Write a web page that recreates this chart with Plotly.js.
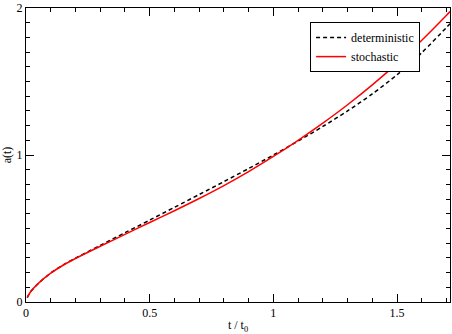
<!DOCTYPE html>
<html>
<head>
<meta charset="utf-8">
<script src="https://cdn.plot.ly/plotly-3.0.1.min.js"></script>
<style>
  html, body { margin: 0; padding: 0; background: #fff; }
  #chart { width: 452px; height: 334px; }
</style>
</head>
<body>
<div id="chart"></div>
<script>
CHART = document.getElementById('chart');

var SERIF = 'Liberation Serif';

// t / t0 sample points
var tVals = [0.005, 0.01, 0.02, 0.05, 0.1, 0.15, 0.2, 0.3, 0.4, 0.5, 0.6, 0.7,
             0.8, 0.9, 1.0, 1.1, 1.2, 1.3, 1.4, 1.5, 1.6, 1.7, 1.714];

// a(t), deterministic (black dashed)
var aDet = [0.03, 0.046, 0.073, 0.127, 0.197, 0.252, 0.298, 0.385, 0.471, 0.557, 0.644, 0.731,
            0.819, 0.908, 1.0, 1.095, 1.194, 1.30, 1.416, 1.546, 1.696, 1.868, 1.893];

// a(t), stochastic (red solid)
var aSto = [0.03, 0.046, 0.073, 0.127, 0.196, 0.25, 0.296, 0.379, 0.46, 0.541, 0.621, 0.704,
            0.792, 0.887, 0.99, 1.10, 1.217, 1.342, 1.477, 1.623, 1.781, 1.951, 1.976];

var xTicks = [0, 0.5, 1, 1.5];
var xTickText = ['0', '0.5', '1', '1.5'];
var yTicks = [0, 1, 2];
var yTickText = ['0', '1', '2'];

var data = [{
    x: tVals,
    y: aDet,
    type: 'scatter',
    mode: 'lines',
    name: 'deterministic',
    line: {color: 'black', width: 1.5, dash: '4px,3px', shape: 'spline', smoothing: 0.8}
}, {
    x: tVals,
    y: aSto,
    type: 'scatter',
    mode: 'lines',
    name: 'stochastic',
    line: {color: 'rgb(255,0,0)', width: 1.5, shape: 'spline', smoothing: 0.8}
}];

var axisCommon = {
    showgrid: false,
    zeroline: false,
    showline: true,
    linecolor: 'black',
    linewidth: 1,
    mirror: 'ticks',
    ticks: 'inside',
    ticklen: 8,
    tickwidth: 1,
    tickcolor: 'black',
    tickfont: {family: SERIF, size: 12, color: 'black'}
};

var layout = {
    width: 452,
    height: 334,
    margin: {l: 26, r: 2, t: 8, b: 32},
    paper_bgcolor: 'white',
    plot_bgcolor: 'white',
    showlegend: true,
    xaxis: Object.assign({}, axisCommon, {
        range: [0, 1.714],
        tickvals: xTicks,
        ticktext: xTickText,
        minor: {dtick: 0.1, ticks: 'inside', ticklen: 4, tickcolor: 'black'},
        title: {text: 't / t<sub>0</sub>', font: {family: SERIF, size: 12, color: 'black'}, standoff: 2}
    }),
    yaxis: Object.assign({}, axisCommon, {
        range: [0, 2],
        tickvals: yTicks,
        ticktext: yTickText,
        minor: {dtick: 0.1, ticks: 'inside', ticklen: 4, tickcolor: 'black'},
        title: {text: 'a(t)', font: {family: SERIF, size: 12, color: 'black'}, standoff: 2}
    }),
    legend: {
        x: 0.67, y: 0.952, xanchor: 'left', yanchor: 'top',
        bgcolor: 'white', bordercolor: 'black', borderwidth: 1,
        font: {family: SERIF, size: 12, color: 'black'},
        itemwidth: 30, tracegroupgap: 0
    },
    font: {family: SERIF, color: 'black'}
};

Plotly.newPlot(CHART, data, layout, {displayModeBar: false, staticPlot: true});
</script>
</body>
</html>
